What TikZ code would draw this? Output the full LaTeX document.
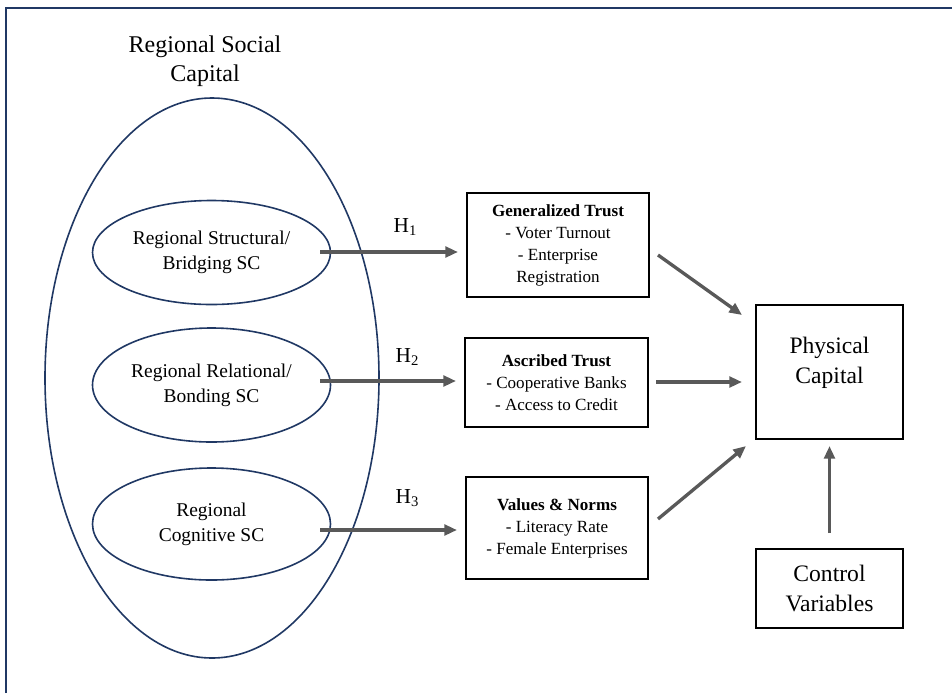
\documentclass[tikz,border=0pt]{standalone}
\usepackage{fontspec}
\setmainfont{Liberation Serif}
\usetikzlibrary{shapes.geometric,arrows.meta}
\definecolor{navy}{HTML}{203864}
\definecolor{arrgray}{HTML}{595959}
\newcommand{\hsub}[1]{H\raisebox{-0.35ex}{\fontsize{11}{11}\selectfont #1}}
\tikzset{
  oval/.style={ellipse, draw=navy, line width=1.2pt, inner sep=0pt, align=center,
    font=\fontsize{14.6}{18.75}\selectfont},
  boxnode/.style={rectangle, draw=black, line width=1.6pt, inner sep=0pt, align=center,
    font=\fontsize{12.8}{16.5}\selectfont},
  bigbox/.style={rectangle, draw=black, line width=1.6pt, inner sep=0pt, align=center,
    font=\fontsize{17.7}{22.5}\selectfont},
  txt/.style={inner sep=0pt, align=center},
  arr/.style={draw=arrgray, line width=2.5pt, -{Triangle[length=9.5pt,width=8pt]}},
  hlab/.style={inner sep=0pt, font=\fontsize{16}{18}\selectfont}
}
\begin{document}
\begin{tikzpicture}[x=0.75pt,y=-0.75pt]
\useasboundingbox (0,0) rectangle (952,693);
% frame (cut at right and bottom)
\draw[navy, line width=1.9pt] (6,693) -- (6,8) -- (952,8);

% big ellipse and title
\node[ellipse, draw=navy, line width=1.2pt, minimum width=250.5pt, minimum height=420pt, inner sep=0pt] (rsc) at (212,378) {};
\node[txt, font=\fontsize{18}{21.75}\selectfont] (title) at (205,61) {Regional Social\\Capital};

% small ellipses
\node[oval, minimum width=178.5pt, minimum height=78pt] (e1) at (211.5,252.5) {Regional Structural/\\Bridging SC};
\node[oval, minimum width=178.5pt, minimum height=85.5pt] (e2) at (211.5,385) {Regional Relational/\\Bonding SC};
\node[oval, minimum width=178.5pt, minimum height=84pt] (e3) at (211.5,524) {Regional\\Cognitive SC};

% middle boxes
\node[boxnode, minimum width=136.5pt, minimum height=78pt] (gt) at (558,245)
  {\textbf{Generalized Trust}\\- Voter Turnout\\- Enterprise\\Registration};
\node[boxnode, minimum width=137.25pt, minimum height=66.75pt] (at) at (556.5,382.5)
  {\textbf{Ascribed Trust}\\- Cooperative Banks\\- Access to Credit};
\node[boxnode, minimum width=136.5pt, minimum height=76.5pt] (vn) at (557,528)
  {\textbf{Values \& Norms}\\- Literacy Rate\\- Female Enterprises};

% right boxes
\node[bigbox, minimum width=110.25pt, minimum height=100.5pt] (pc) at (829.5,372) {};
\node[txt, font=\fontsize{17.7}{22.5}\selectfont] (pctext) at (829.5,363) {Physical\\Capital};
\node[bigbox, minimum width=110.25pt, minimum height=59.25pt] (cv) at (829.5,588.5) {Control\\Variables};

% hypothesis labels
\node[hlab] (h1) at (405,227) {\hsub{1}};
\node[hlab] (h2) at (407,357) {\hsub{2}};
\node[hlab] (h3) at (407,498) {\hsub{3}};

% arrow end points
\coordinate (a1s) at (320,252);  \coordinate (a1e) at (458,252);
\coordinate (a2s) at (320,381);  \coordinate (a2e) at (456,381);
\coordinate (a3s) at (320,530);  \coordinate (a3e) at (457,530);
\coordinate (d1s) at (658,255);  \coordinate (d1e) at (742,315);
\coordinate (d2s) at (656,382);  \coordinate (d2e) at (742,382);
\coordinate (d3s) at (658,519);  \coordinate (d3e) at (746,446);
\coordinate (v1s) at (829.5,533); \coordinate (v1e) at (829.5,446);

\draw[arr] (a1s) -- (a1e);
\draw[arr] (a2s) -- (a2e);
\draw[arr] (a3s) -- (a3e);
\draw[arr] (d1s) -- (d1e);
\draw[arr] (d2s) -- (d2e);
\draw[arr] (d3s) -- (d3e);
\draw[arr] (v1s) -- (v1e);
\end{tikzpicture}
\end{document}
